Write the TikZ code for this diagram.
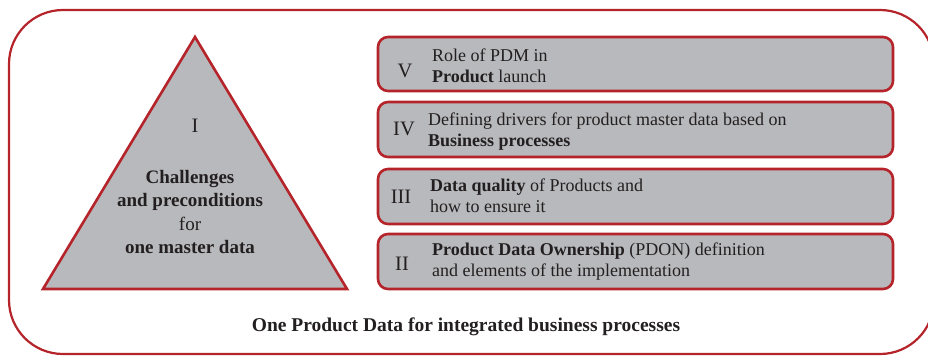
\documentclass[tikz,border=0pt]{standalone}
\usepackage{fontspec}
\setmainfont{Liberation Serif}
\definecolor{rimred}{RGB}{180,36,42}
\definecolor{boxgray}{RGB}{184,185,188}
\definecolor{ink}{RGB}{35,31,32}
\begin{document}
\begin{tikzpicture}[x=1pt,y=-1pt,
  rim/.style={draw=rimred,line width=2.6pt},
  itembox/.style={rim,fill=boxgray,rounded corners=10pt},
  numeral/.style={text=ink,font=\fontsize{20.5}{21}\selectfont,inner sep=0pt},
  itemtext/.style={text=ink,font=\fontsize{18}{21}\selectfont,align=left,anchor=west,inner sep=0pt},
  tritext/.style={text=ink,font=\fontsize{19}{23.5}\selectfont,align=center,inner sep=0pt}]
\useasboundingbox (0,0) rectangle (928,356);
\begin{scope}
\clip (0,0) rectangle (928,356);
\draw[rim,line width=2.2pt,rounded corners=54pt] (9,10) rectangle (934,354);
\end{scope}
% triangle
\draw[rim,fill=boxgray,line join=miter] (195,37) -- (347,289) -- (43,289) -- cycle;
\node[numeral] (n1) at (195,126) {I};
\node[tritext] (t1) at (190,212) {\textbf{Challenges}\\\textbf{and preconditions}\\for\\\textbf{one master data}};
% boxes
\draw[itembox] (378,37) rectangle (893,91);
\draw[itembox] (378,102) rectangle (893,157);
\draw[itembox] (378,169) rectangle (893,224);
\draw[itembox] (378,234) rectangle (893,289);
\node[numeral] (n5) at (405,71) {V};
\node[itemtext] (t5) at (432,66) {Role of PDM in\\\textbf{Product} launch};
\node[numeral] (n4) at (404,129) {IV};
\node[itemtext] (t4) at (428,132) {Defining drivers for product master data based on\\\textbf{Business processes}};
\node[numeral] (n3) at (401,197) {III};
\node[itemtext] (t3) at (430,196) {\textbf{Data quality} of Products and\\how to ensure it};
\node[numeral] (n2) at (402,264) {II};
\node[itemtext] (t2) at (432,262) {\textbf{Product Data Ownership} (PDON) definition\\and elements of the implementation};
\node[text=ink,font=\fontsize{19.5}{21}\selectfont\bfseries,inner sep=0pt] (title) at (466,327) {One Product Data for integrated business processes};
\end{tikzpicture}
\end{document}
